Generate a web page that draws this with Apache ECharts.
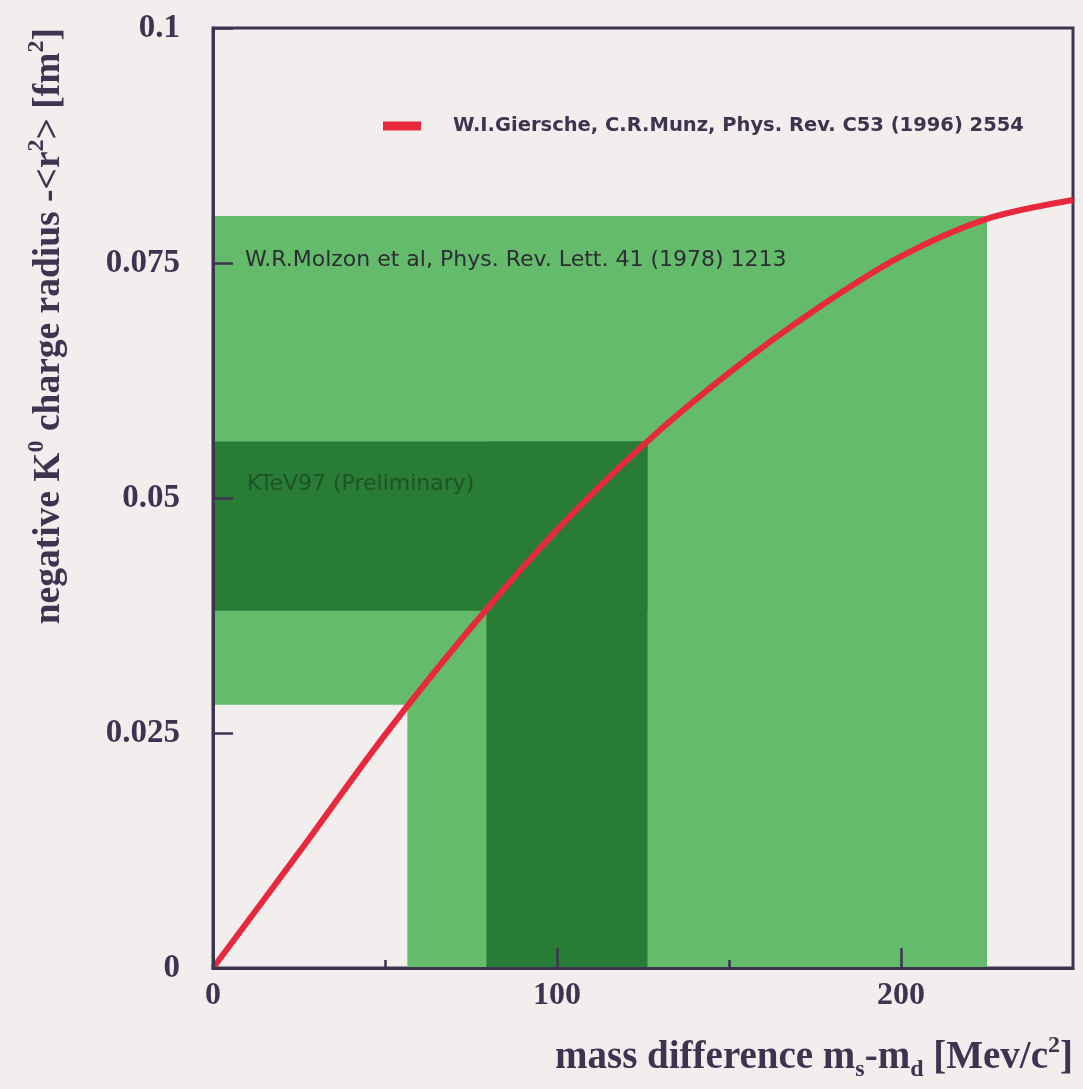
<!DOCTYPE html>
<html>
<head>
<meta charset="utf-8">
<script src="https://cdn.jsdelivr.net/npm/echarts@6/dist/echarts.min.js"></script>
<style>
  html, body { margin: 0; padding: 0; background: #f2eeee; }
  #chart { width: 1083px; height: 1089px; }
</style>
</head>
<body>
<div id="chart"></div>
<script>
// ---- data ----
const xTickValues = [0, 100, 200];
const xMinorTickValues = [50, 150];
const yTickValues = [0, 0.025, 0.05, 0.075, 0.1];

// Giersche & Munz theory curve: mass difference (MeV/c^2) -> -<r^2> (fm^2)
const curveMass   = [0, 25, 50, 75, 100, 125, 150, 175, 200, 225, 250];
const curveRadius = [0, 0.0123, 0.0248, 0.0362, 0.0466, 0.0556, 0.0633, 0.0700, 0.0757, 0.0797, 0.0817];

// Molzon et al (1978) allowed band
const molzonMass   = [56.5, 225];
const molzonRadius = [0.028, 0.080];

// KTeV97 (preliminary) allowed band
const ktevMass   = [79.5, 126.3];
const ktevRadius = [0.038, 0.056];

const legendName = 'W.I.Giersche, C.R.Munz, Phys. Rev. C53 (1996) 2554';
const molzonLabel = 'W.R.Molzon et al, Phys. Rev. Lett. 41 (1978) 1213';
const ktevLabel = 'KTeV97 (Preliminary)';

// ---- styling ----
const ink = '#3d3550';
const lightGreen = '#63bb6b';
const darkGreen = '#287c35';
const red = '#e8283c';
const serif = '"Liberation Serif", "Times New Roman", serif';
const sans = '"DejaVu Sans", "Liberation Sans", sans-serif';

// L-shaped bands: horizontal strip from x=0, plus vertical strip from y=0
function bandRects(mass, radius) {
  return [
    [0, mass[1], radius[0], radius[1]],
    [mass[0], mass[1], 0, radius[1]]
  ];
}

function rectRenderer(color) {
  return function (params, api) {
    const p0 = api.coord([api.value(0), api.value(3)]);
    const p1 = api.coord([api.value(1), api.value(2)]);
    return {
      type: 'rect',
      shape: { x: p0[0], y: p0[1], width: p1[0] - p0[0], height: p1[1] - p0[1] },
      style: { fill: color }
    };
  };
}

const chart = echarts.init(document.getElementById('chart'));

const titleRich = {
  sup: { fontSize: 24, fontFamily: serif, fontWeight: 'bold', color: ink, verticalAlign: 'top', lineHeight: 48 },
  sub: { fontSize: 24, fontFamily: serif, fontWeight: 'bold', color: ink, verticalAlign: 'bottom', lineHeight: 48 }
};

chart.setOption({
  backgroundColor: '#f2eeee',
  animation: false,
  grid: {
    left: 213, top: 28, right: 10, bottom: 121,
    show: true, borderColor: ink, borderWidth: 3, backgroundColor: 'transparent'
  },
  legend: {
    data: [legendName],
    left: 378, top: 111,
    icon: 'rect',
    itemWidth: 38, itemHeight: 9,
    itemGap: 0,
    textStyle: { fontFamily: sans, fontWeight: 'bold', fontSize: 19.5, color: ink, padding: [0, 0, 0, 27] }
  },
  xAxis: [
    {
      type: 'value', min: 0, max: 250, interval: 100, z: 10,
      axisLine: { show: true, lineStyle: { color: ink, width: 3 } },
      axisTick: { show: true, inside: true, length: 20, customValues: [100, 200], lineStyle: { color: ink, width: 2.5 } },
      axisLabel: { customValues: xTickValues, margin: 12, fontFamily: serif, fontWeight: 'bold', fontSize: 32, color: ink },
      splitLine: { show: false }
    },
    {
      type: 'value', min: 0, max: 250, position: 'bottom', z: 10,
      axisLine: { show: false },
      axisTick: { show: true, inside: true, length: 8, customValues: xMinorTickValues, lineStyle: { color: ink, width: 2.5 } },
      axisLabel: { show: false },
      splitLine: { show: false }
    }
  ],
  yAxis: {
    type: 'value', min: 0, max: 0.1, interval: 0.025, z: 10,
    axisLine: { show: true, lineStyle: { color: ink, width: 3 } },
    axisTick: { show: true, inside: true, length: 20, lineStyle: { color: ink, width: 2.5 } },
    axisLabel: {
      margin: 33, fontFamily: serif, fontWeight: 'bold', fontSize: 33, color: ink,
      customValues: yTickValues,
      formatter: v => String(+v.toFixed(3))
    },
    splitLine: { show: false }
  },
  graphic: [
    {
      type: 'text', x: 73, y: 28, rotation: Math.PI / 2, z: 100,
      style: {
        text: 'negative K{sup|0} charge radius -<r{sup|2}> [fm{sup|2}]',
        rich: titleRich,
        fontFamily: serif, fontWeight: 'bold', fontSize: 37.5, lineHeight: 48,
        fill: ink, align: 'right', verticalAlign: 'bottom'
      }
    },
    {
      type: 'text', x: 1073, y: 1082, z: 100,
      style: {
        text: 'mass difference m{sub|s}-m{sub|d} [Mev/c{sup|2}]',
        rich: titleRich,
        fontFamily: serif, fontWeight: 'bold', fontSize: 39, lineHeight: 48,
        fill: ink, align: 'right', verticalAlign: 'bottom'
      }
    },
    {
      type: 'text', x: 245, y: 260, z: 100,
      style: { text: molzonLabel, fontFamily: sans, fontSize: 22, fill: '#2e2c33', align: 'left', verticalAlign: 'middle' }
    },
    {
      type: 'text', x: 247, y: 484, z: 100,
      style: { text: ktevLabel, fontFamily: sans, fontSize: 22, fill: '#1d5425', align: 'left', verticalAlign: 'middle' }
    }
  ],
  series: [
    {
      type: 'custom', name: 'Molzon', z: 1, silent: true,
      encode: { x: [0, 1], y: [2, 3] },
      renderItem: rectRenderer(lightGreen),
      data: bandRects(molzonMass, molzonRadius)
    },
    {
      type: 'custom', name: 'KTeV97', z: 2, silent: true,
      encode: { x: [0, 1], y: [2, 3] },
      renderItem: rectRenderer(darkGreen),
      data: bandRects(ktevMass, ktevRadius)
    },
    {
      type: 'line', name: legendName, z: 5,
      smooth: 0.3, showSymbol: false, symbol: 'none',
      lineStyle: { color: red, width: 6 },
      itemStyle: { color: red },
      data: curveMass.map((m, i) => [m, curveRadius[i]])
    }
  ]
});
</script>
</body>
</html>
